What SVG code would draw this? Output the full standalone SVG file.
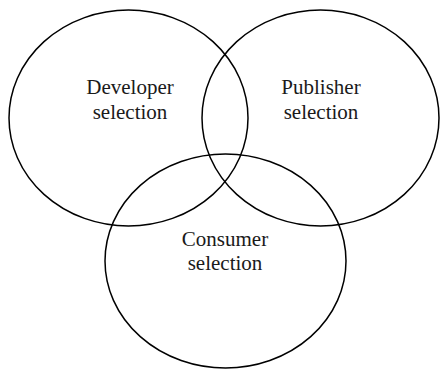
<svg xmlns="http://www.w3.org/2000/svg" width="440" height="370" viewBox="0 0 440 370">
<style>
.set{fill:none;stroke:#000;stroke-width:1.5}
.lbl{font-size:21px;fill:#1a1a1a;text-anchor:middle;font-family:"Liberation Serif","Times New Roman",serif}
</style>
<rect width="440" height="370" fill="#fff"/>
<g id="developer">
<ellipse class="set" cx="128.5" cy="118" rx="119.5" ry="108"/>
<text class="lbl" x="130" y="94">Developer</text>
<text class="lbl" x="130" y="119">selection</text>
</g>
<g id="publisher">
<ellipse class="set" cx="320.5" cy="118" rx="118.5" ry="108"/>
<text class="lbl" x="321" y="94">Publisher</text>
<text class="lbl" x="321" y="119">selection</text>
</g>
<g id="consumer">
<ellipse class="set" cx="225.5" cy="261" rx="120.5" ry="107"/>
<text class="lbl" x="225" y="246">Consumer</text>
<text class="lbl" x="225" y="270">selection</text>
</g>
<g id="connectors"></g>
</svg>
